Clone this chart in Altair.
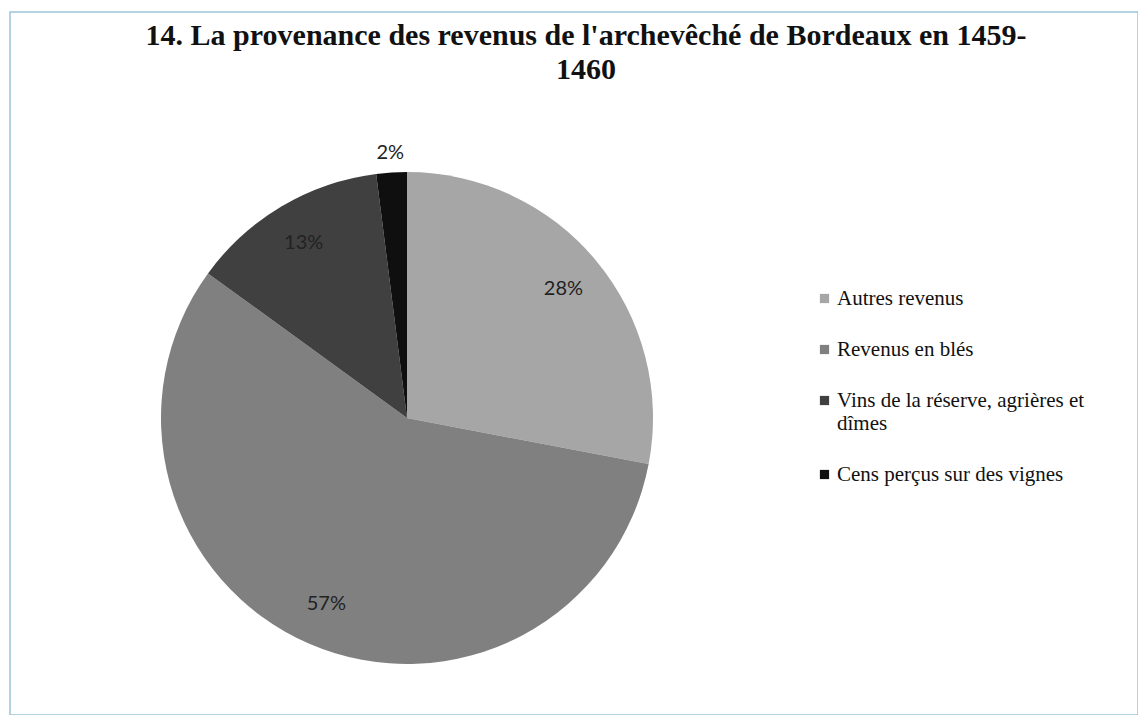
import altair as alt
import pandas as pd

categories = [
    "Autres revenus",
    "Revenus en blés",
    "Vins de la réserve, agrières et dîmes",
    "Cens perçus sur des vignes",
]
values = [28, 57, 13, 2]
colors = ["#a6a6a6", "#808080", "#404040", "#0f0f0f"]
title_lines = ["14. La provenance des revenus de l'archevêché de Bordeaux en 1459-", "1460"]

df = pd.DataFrame({
    "category": categories,
    "value": values,
    "order": list(range(len(categories))),
})

CX, CY, R = 397, 406, 246

color_enc = alt.Color(
    "category:N",
    scale=alt.Scale(domain=categories, range=colors),
    sort=categories,
    legend=alt.Legend(
        title=None,
        orient="none",
        legendX=804,
        legendY=276,
        symbolType="square",
        symbolSize=85,
        symbolStrokeWidth=0,
        labelFont="Liberation Serif",
        labelFontSize=21,
        labelColor="#111111",
        labelLimit=400,
        labelOffset=2,
        rowPadding=29,
        labelBaseline="middle",
        labelExpr="datum.label == 'Vins de la réserve, agrières et dîmes' ? ['Vins de la réserve, agrières et', 'dîmes'] : datum.label",
    ),
)

arcs = alt.Chart(df).mark_arc(outerRadius=R).encode(
    theta=alt.Theta("value:Q", stack=True),
    order=alt.Order("order:Q"),
    color=color_enc,
    x=alt.value(CX),
    y=alt.value(CY),
)

labels = alt.Chart(df).transform_window(
    cum="sum(value)", sort=[alt.SortField("order")]
).transform_joinaggregate(
    total="sum(value)"
).transform_calculate(
    mid="(datum.cum - datum.value / 2) / datum.total * 2 * PI",
    lr="datum.value < 5 ? 266 : 203",
    label="datum.value + '%'",
).mark_text(
    font="Lato", fontSize=20, color="#222222"
).encode(
    theta=alt.Theta("mid:Q", scale=None),
    radius=alt.Radius("lr:Q", scale=None),
    text=alt.Text("label:N"),
    x=alt.value(CX),
    y=alt.value(CY),
)

chart = alt.layer(arcs, labels).resolve_scale(theta="independent").properties(
    width=1128,
    height=703,
    autosize=alt.AutoSizeParams(type="none"),
    padding={"left": 2, "top": 4, "right": 0, "bottom": 0},
    background="white",
    title=alt.TitleParams(
        text=title_lines,
        font="Liberation Serif",
        fontSize=30,
        fontWeight="bold",
        color="#111111",
        anchor="middle",
        lineHeight=34,
        offset=-73,
        dx=12,
    ),
).configure_view(
    stroke="#9cc3d8",
    strokeWidth=1.5,
)

chart.save("out.html", embed_options={"renderer": "svg", "actions": False})
